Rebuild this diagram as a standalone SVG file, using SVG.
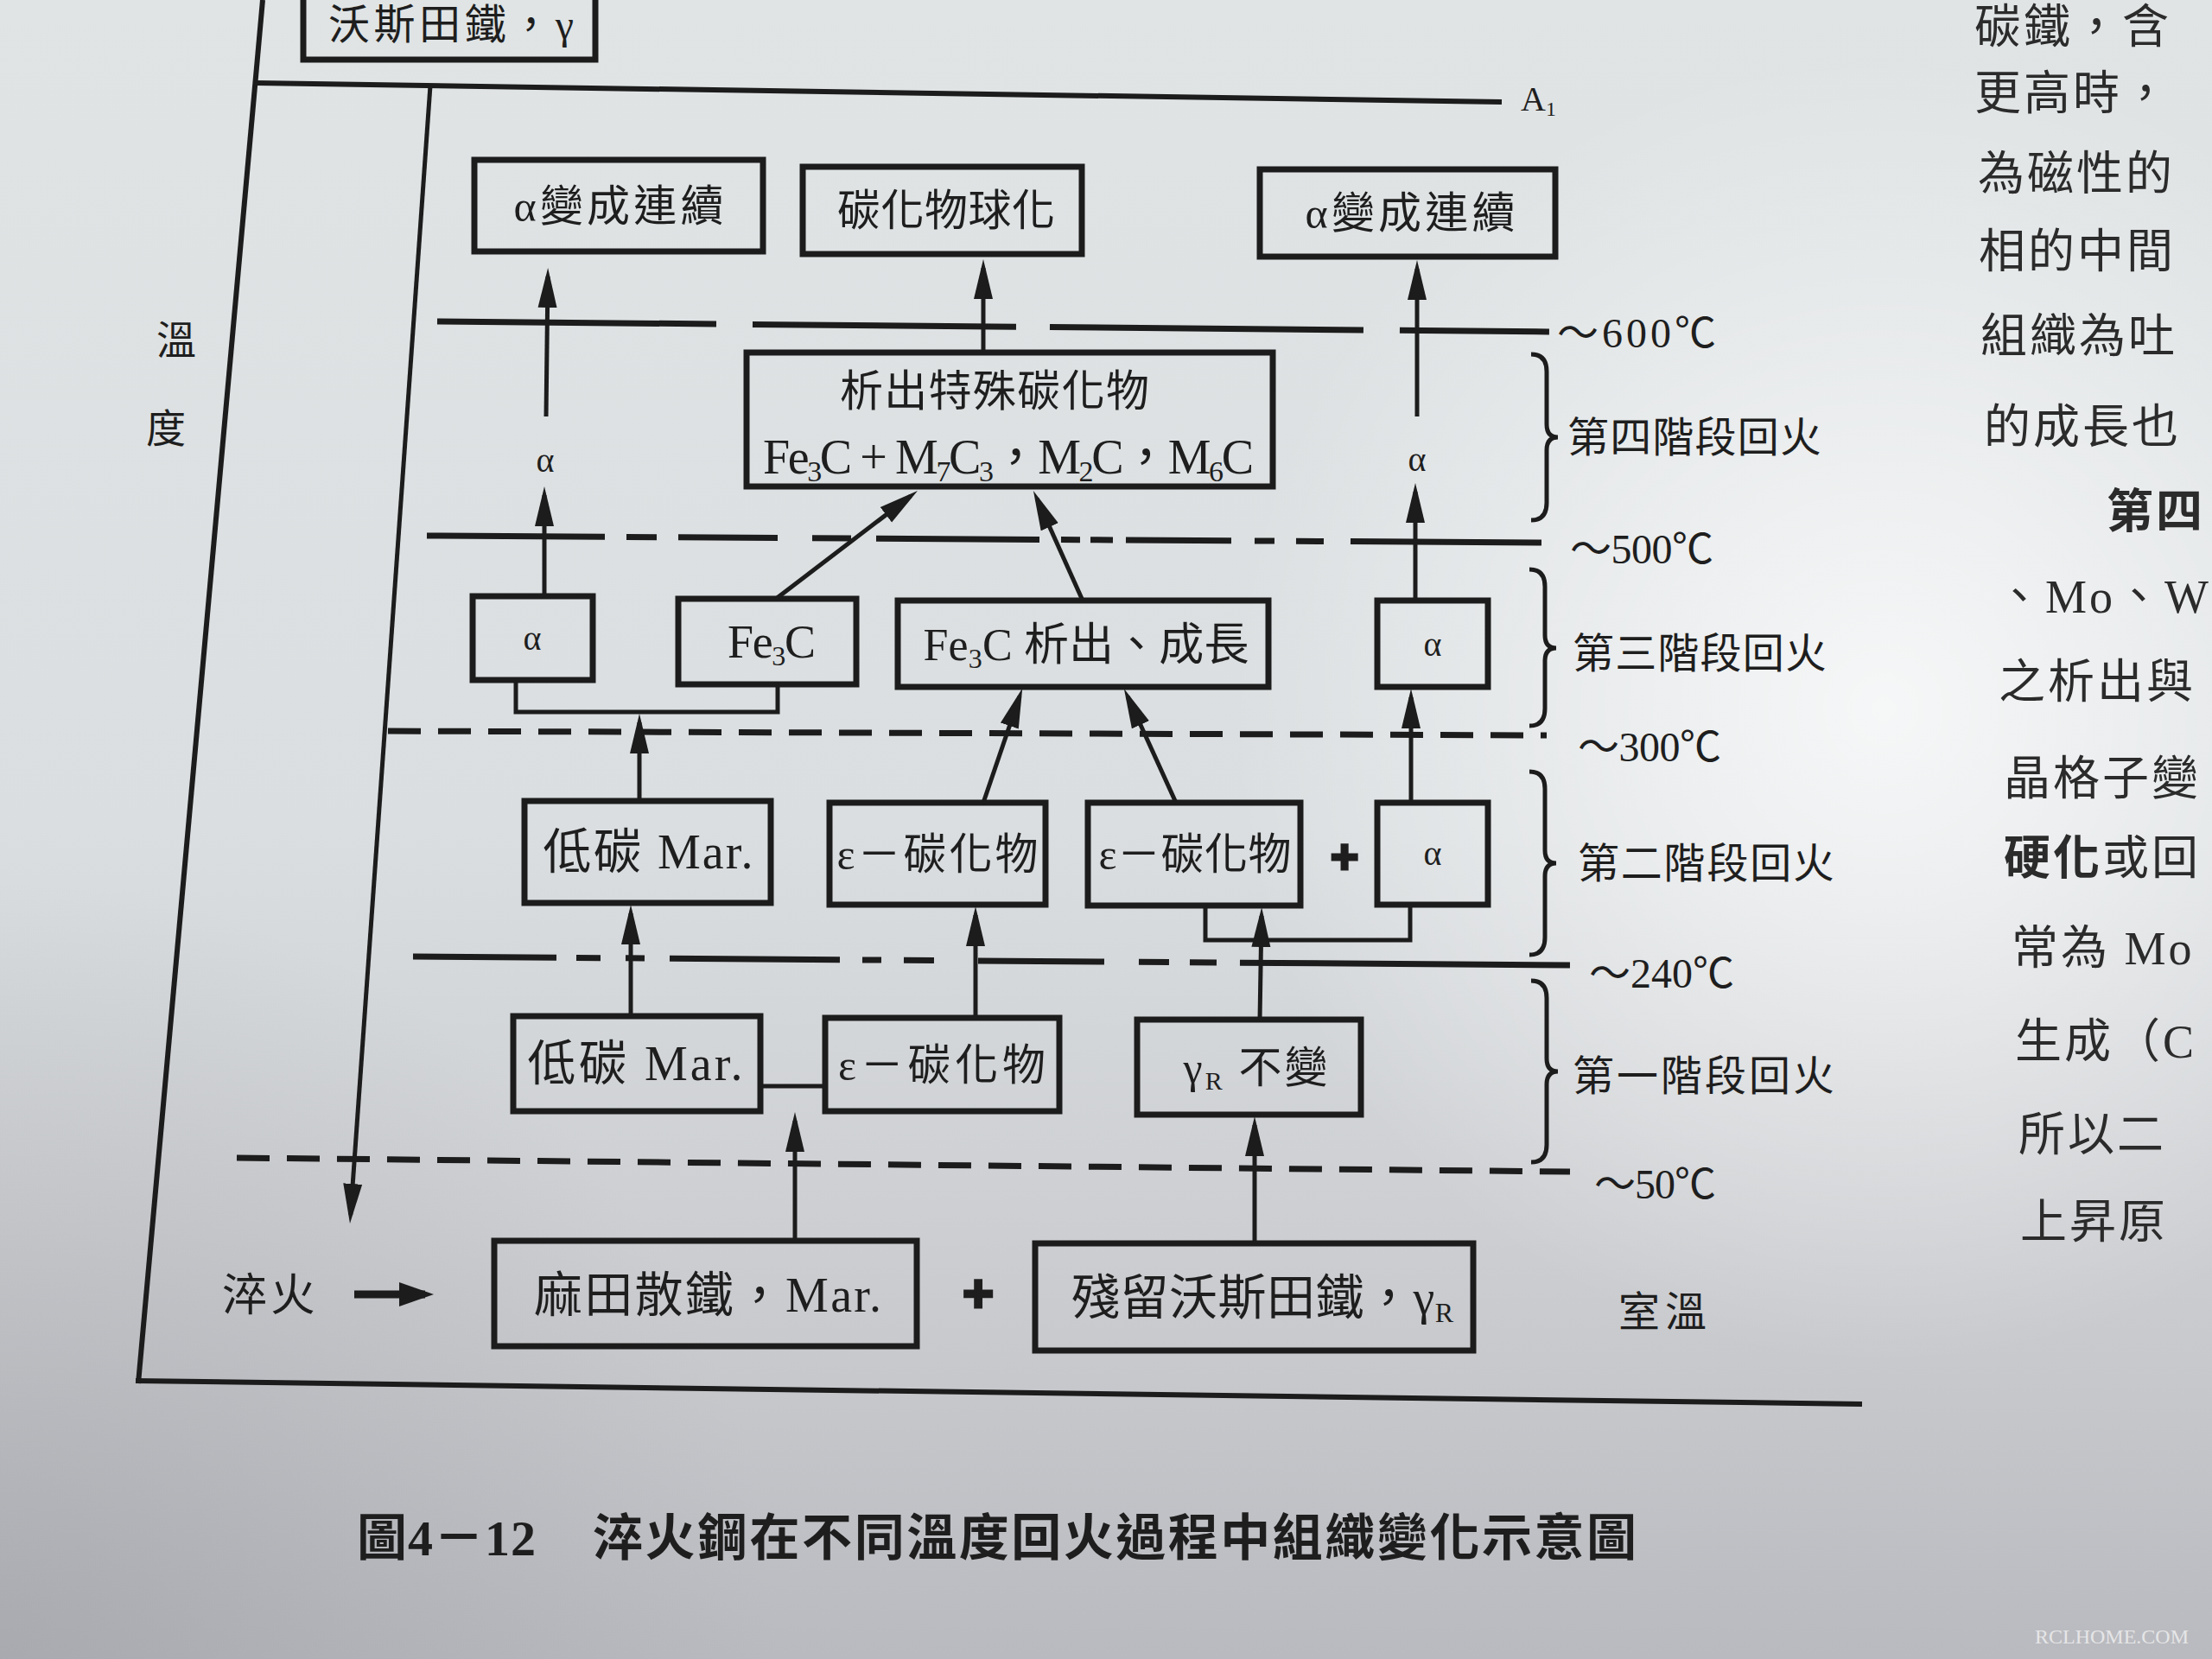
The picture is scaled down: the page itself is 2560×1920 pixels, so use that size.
<svg xmlns="http://www.w3.org/2000/svg" width="2560" height="1920" viewBox="0 0 2560 1920">
<defs>
<linearGradient id="bg" x1="0" y1="0" x2="0" y2="1">
<stop offset="0" stop-color="#e0e4e5"/>
<stop offset="0.5" stop-color="#dadee0"/>
<stop offset="0.82" stop-color="#c8c9cd"/>
<stop offset="1" stop-color="#b9babf"/>
</linearGradient>
<radialGradient id="hl" cx="2180" cy="820" r="760" gradientUnits="userSpaceOnUse">
<stop offset="0" stop-color="#ffffff" stop-opacity="0.75"/>
<stop offset="1" stop-color="#ffffff" stop-opacity="0"/>
</radialGradient>
<radialGradient id="dk" cx="0" cy="1920" r="900" gradientUnits="userSpaceOnUse">
<stop offset="0" stop-color="#8a8c92" stop-opacity="0.35"/>
<stop offset="1" stop-color="#8a8c92" stop-opacity="0"/>
</radialGradient>
<marker id="ah" markerUnits="userSpaceOnUse" markerWidth="46" markerHeight="24" viewBox="0 0 46 24" refX="36" refY="12" orient="auto">
<path d="M0,1 L46,12 L0,23 z" fill="#1c1c1c"/>
</marker>
<marker id="ahb" markerUnits="userSpaceOnUse" markerWidth="40" markerHeight="30" viewBox="0 0 40 30" refX="30" refY="15" orient="auto">
<path d="M0,1 L40,15 L0,29 z" fill="#1c1c1c"/>
</marker>
<style>
.box{fill:none;stroke:#1c1c1c;stroke-width:7}
.ln{fill:none;stroke:#1c1c1c;stroke-width:5}
.ar{fill:none;stroke:#1c1c1c;stroke-width:5;marker-end:url(#ah)}
.dl{fill:none;stroke:#1c1c1c;stroke-width:7}
.fr{fill:none;stroke:#1c1c1c;stroke-width:6}
.t{font-family:"Liberation Serif","Noto Sans CJK TC",serif;fill:#1e1e1e}
.m{text-anchor:middle}
.b{font-size:50px}
.mar{font-size:56px}
.lab{font-size:48px}
.plus{font-family:"Liberation Sans",sans-serif;font-weight:bold;fill:#1e1e1e;stroke:#1e1e1e;stroke-width:3;text-anchor:middle}
.pg{font-family:"Liberation Serif","Noto Sans CJK TC",serif;fill:#2b2b2b;font-size:54px;letter-spacing:3px}
.bd{font-weight:bold}
</style>
</defs>
<rect x="0" y="0" width="2560" height="1920" fill="url(#bg)"/>
<rect x="0" y="0" width="2560" height="1920" fill="url(#hl)"/>
<rect x="0" y="0" width="2560" height="1920" fill="url(#dk)"/>

<g id="frame">
<line class="fr" x1="304" y1="0" x2="160" y2="1601"/>
<line class="fr" x1="157" y1="1598" x2="2155" y2="1625"/>
<line class="fr" x1="297" y1="96" x2="1738" y2="118"/>
<text class="t" x="1760" y="128" font-size="40">A<tspan font-size="24" dy="6">1</tspan></text>
</g>

<g id="axis">
<line class="ar" x1="498" y1="99" x2="405.7" y2="1406"/>
<text class="t" x="204" y="410" font-size="46" text-anchor="middle">溫</text>
<text class="t" x="192" y="512" font-size="46" text-anchor="middle">度</text>
</g>

<g id="temp-lines">
<path class="dl" transform="rotate(0.53 506 372)" d="M506 372 H829 M871 372 H1176 M1215 372 H1578 M1620 372 H1793"/>
<path class="dl" transform="rotate(0.355 494 620)" d="M494 620 H700 M725 620 H760 M785 620 H900 M940 620 H985 M1014 620 H1203 M1228 620 H1250 M1262 620 H1288 M1303 620 H1425 M1452 620 H1475 M1500 620 H1532 M1563 620 H1784"/>
<line class="dl" x1="449" y1="846" x2="1790" y2="851" stroke-dasharray="38 20"/>
<path class="dl" transform="rotate(0.43 478 1107)" d="M478 1107 H644 M667 1107 H695 M724 1107 H746 M775 1107 H972 M998 1107 H1020 M1046 1107 H1081 M1132 1107 H1278 M1318 1107 H1353 M1377 1107 H1408 M1435 1107 H1817"/>
<line class="dl" x1="274" y1="1340" x2="1817" y2="1356" stroke-dasharray="38 20"/>
</g>

<g id="temp-labels">
<text class="t lab" x="1802" y="402" textLength="184">～600℃</text>
<text class="t lab" x="1817" y="652" textLength="166">～500℃</text>
<text class="t lab" x="1826" y="881" textLength="166">～300℃</text>
<text class="t lab" x="1839" y="1143" textLength="168">～240℃</text>
<text class="t lab" x="1845" y="1387" textLength="141">～50℃</text>
<text class="t lab" x="1873" y="1535" textLength="102">室溫</text>
</g>

<g id="stages">
<path class="ln" d="M1772 410 Q1790 410 1790 430 L1790 491 Q1790 506 1803 506 Q1790 506 1790 521 L1790 582 Q1790 602 1772 602"/>
<text class="t lab" x="1814" y="523" textLength="294">第四階段回火</text>
<path class="ln" d="M1770 659 Q1788 659 1788 679 L1788 735 Q1788 750 1801 750 Q1788 750 1788 765 L1788 820 Q1788 840 1770 840"/>
<text class="t lab" x="1820" y="773" textLength="294">第三階段回火</text>
<path class="ln" d="M1770 893 Q1788 893 1788 913 L1788 984 Q1788 999 1801 999 Q1788 999 1788 1014 L1788 1085 Q1788 1105 1770 1105"/>
<text class="t lab" x="1826" y="1016" textLength="297">第二階段回火</text>
<path class="ln" d="M1772 1135 Q1790 1135 1790 1155 L1790 1225 Q1790 1240 1803 1240 Q1790 1240 1790 1255 L1790 1325 Q1790 1345 1772 1345"/>
<text class="t lab" x="1820" y="1262" textLength="303">第一階段回火</text>
</g>

<g id="n-austenite">
<rect class="box" x="351" y="-20" width="338" height="89"/>
<text class="t m" x="522" y="45" font-size="48" textLength="284">沃斯田鐵，γ</text>
</g>

<g id="n-alpha-cont-l">
<rect class="box" x="549" y="185" width="334" height="106"/>
<text class="t m b" x="716" y="256" textLength="243">α變成連續</text>
</g>
<g id="n-spheroid">
<rect class="box" x="929" y="193" width="323" height="101"/>
<text class="t m b" x="1095" y="261" textLength="252">碳化物球化</text>
</g>
<g id="n-alpha-cont-r">
<rect class="box" x="1458" y="196" width="342" height="101"/>
<text class="t m b" x="1632" y="264" textLength="243">α變成連續</text>
</g>

<g id="n-special">
<rect class="box" x="864" y="408" width="609" height="155"/>
<text class="t m b" x="1151" y="470" textLength="358">析出特殊碳化物</text>
<text class="t m" x="1167" y="548" font-size="56" textLength="568">Fe<tspan font-size="34" dy="9">3</tspan><tspan dy="-9">C + M</tspan><tspan font-size="34" dy="9">7</tspan><tspan dy="-9">C</tspan><tspan font-size="34" dy="9">3</tspan><tspan dy="-9">，M</tspan><tspan font-size="34" dy="9">2</tspan><tspan dy="-9">C，M</tspan><tspan font-size="34" dy="9">6</tspan><tspan dy="-9">C</tspan></text>
</g>

<g id="n-alpha3l">
<rect class="box" x="547" y="690" width="139" height="97"/>
<text class="t m" x="616" y="752" font-size="40">α</text>
</g>
<g id="n-fe3c">
<rect class="box" x="785" y="693" width="206" height="99"/>
<text class="t m" x="893" y="761" font-size="54" textLength="102">Fe<tspan font-size="32" dy="9">3</tspan><tspan dy="-9">C</tspan></text>
</g>
<g id="n-fe3c-grow">
<rect class="box" x="1039" y="695" width="429" height="100"/>
<text class="t m" x="1257" y="764" font-size="52" textLength="377">Fe<tspan font-size="32" dy="9">3</tspan><tspan dy="-9">C 析出、成長</tspan></text>
</g>
<g id="n-alpha3r">
<rect class="box" x="1594" y="695" width="128" height="100"/>
<text class="t m" x="1658" y="759" font-size="40">α</text>
</g>

<g id="n-lowc2">
<rect class="box" x="607" y="927" width="285" height="118"/>
<text class="t m mar" x="750" y="1005" textLength="243">低碳 Mar.</text>
</g>
<g id="n-eps2a">
<rect class="box" x="960" y="929" width="250" height="118"/>
<text class="t m b" x="1085" y="1006" textLength="233">ε－碳化物</text>
</g>
<g id="n-eps2b">
<rect class="box" x="1259" y="929" width="246" height="119"/>
<text class="t m b" x="1383" y="1006" textLength="223">ε－碳化物</text>
</g>
<text class="plus" x="1556" y="1010" font-size="56">+</text>
<g id="n-alpha2">
<rect class="box" x="1594" y="929" width="128" height="118"/>
<text class="t m" x="1658" y="1001" font-size="40">α</text>
</g>

<g id="n-lowc1">
<rect class="box" x="594" y="1176" width="286" height="110"/>
<text class="t m mar" x="735" y="1250" textLength="249">低碳 Mar.</text>
</g>
<g id="n-eps1">
<rect class="box" x="955" y="1178" width="271" height="108"/>
<text class="t m b" x="1090" y="1250" textLength="240">ε－碳化物</text>
</g>
<g id="n-gammar1">
<rect class="box" x="1316" y="1180" width="259" height="110"/>
<text class="t m b" x="1453" y="1253" textLength="167">γ<tspan font-size="30" dy="8">R</tspan><tspan dy="-8"> 不變</tspan></text>
</g>

<g id="n-quench">
<text class="t" x="257" y="1517" font-size="52" textLength="108">淬火</text>
</g>
<g id="n-martensite">
<rect class="box" x="572" y="1436" width="489" height="122"/>
<text class="t m" x="819" y="1518" font-size="56" textLength="402">麻田散鐵，Mar.</text>
</g>
<text class="plus" x="1132" y="1518" font-size="62">+</text>
<g id="n-retained">
<rect class="box" x="1198" y="1439" width="507" height="124"/>
<text class="t m" x="1461" y="1521" font-size="56" textLength="442">殘留沃斯田鐵，γ<tspan font-size="32" dy="9">R</tspan></text>
</g>

<g id="connectors">
<line class="ar" x1="630" y1="690" x2="630" y2="573"/>
<text class="t m" x="631" y="546" font-size="40">α</text>
<line class="ar" x1="632" y1="482" x2="634" y2="320"/>
<line class="ar" x1="1138" y1="408" x2="1138" y2="310"/>
<line class="ar" x1="1638" y1="695" x2="1638" y2="569"/>
<text class="t m" x="1640" y="545" font-size="40">α</text>
<line class="ar" x1="1640" y1="482" x2="1640" y2="311"/>
<line class="ar" x1="898" y1="693" x2="1054" y2="574"/>
<line class="ar" x1="1253" y1="695" x2="1200" y2="577"/>
<path class="ln" d="M597 787 V824 H900 V792"/>
<line class="ar" x1="740" y1="927" x2="740" y2="836"/>
<line class="ar" x1="1138" y1="929" x2="1180" y2="806"/>
<line class="ar" x1="1361" y1="929" x2="1305" y2="806"/>
<line class="ar" x1="1633" y1="929" x2="1633" y2="807"/>
<path class="ln" d="M1395 1048 V1088 H1632 V1047"/>
<line class="ar" x1="1458" y1="1180" x2="1460" y2="1060"/>
<line class="ar" x1="1129" y1="1178" x2="1129" y2="1059"/>
<line class="ar" x1="730" y1="1176" x2="730" y2="1057"/>
<line class="ln" x1="880" y1="1257" x2="955" y2="1257"/>
<line class="ar" x1="920" y1="1436" x2="920" y2="1297"/>
<line class="ar" x1="1452" y1="1439" x2="1452" y2="1302"/>
<line x1="410" y1="1498" x2="492" y2="1498" stroke="#1c1c1c" stroke-width="9" marker-end="url(#ahb)"/>
</g>

<g id="caption">
<text class="t bd" x="413" y="1800" font-size="58" textLength="207">圖4－12</text>
<text class="t bd" x="686" y="1800" font-size="58" textLength="1208">淬火鋼在不同溫度回火過程中組織變化示意圖</text>
</g>

<g id="page-text">
<text class="pg" x="2285" y="50">碳鐵，含</text>
<text class="pg" x="2285" y="127">更高時，</text>
<text class="pg" x="2289" y="220">為磁性的</text>
<text class="pg" x="2290" y="310">相的中間</text>
<text class="pg" x="2292" y="408">組織為吐</text>
<text class="pg" x="2296" y="513">的成長也</text>
<text class="pg bd" x="2438" y="611">第四</text>
<text class="pg" x="2310" y="709" letter-spacing="0">、Mo、W</text>
<text class="pg" x="2313" y="808">之析出與</text>
<text class="pg" x="2319" y="920" letter-spacing="0">晶格子變</text>
<text class="pg" x="2319" y="1012" letter-spacing="0"><tspan class="bd">硬化</tspan>或回</text>
<text class="pg" x="2328" y="1116">常為 Mo</text>
<text class="pg" x="2332" y="1224">生成（C</text>
<text class="pg" x="2336" y="1332">所以二</text>
<text class="pg" x="2338" y="1433">上昇原</text>
<text x="2355" y="1902" font-family="Liberation Serif, serif" font-size="24" fill="#f2f2f2" fill-opacity="0.8">RCLHOME.COM</text>
</g>
</svg>
